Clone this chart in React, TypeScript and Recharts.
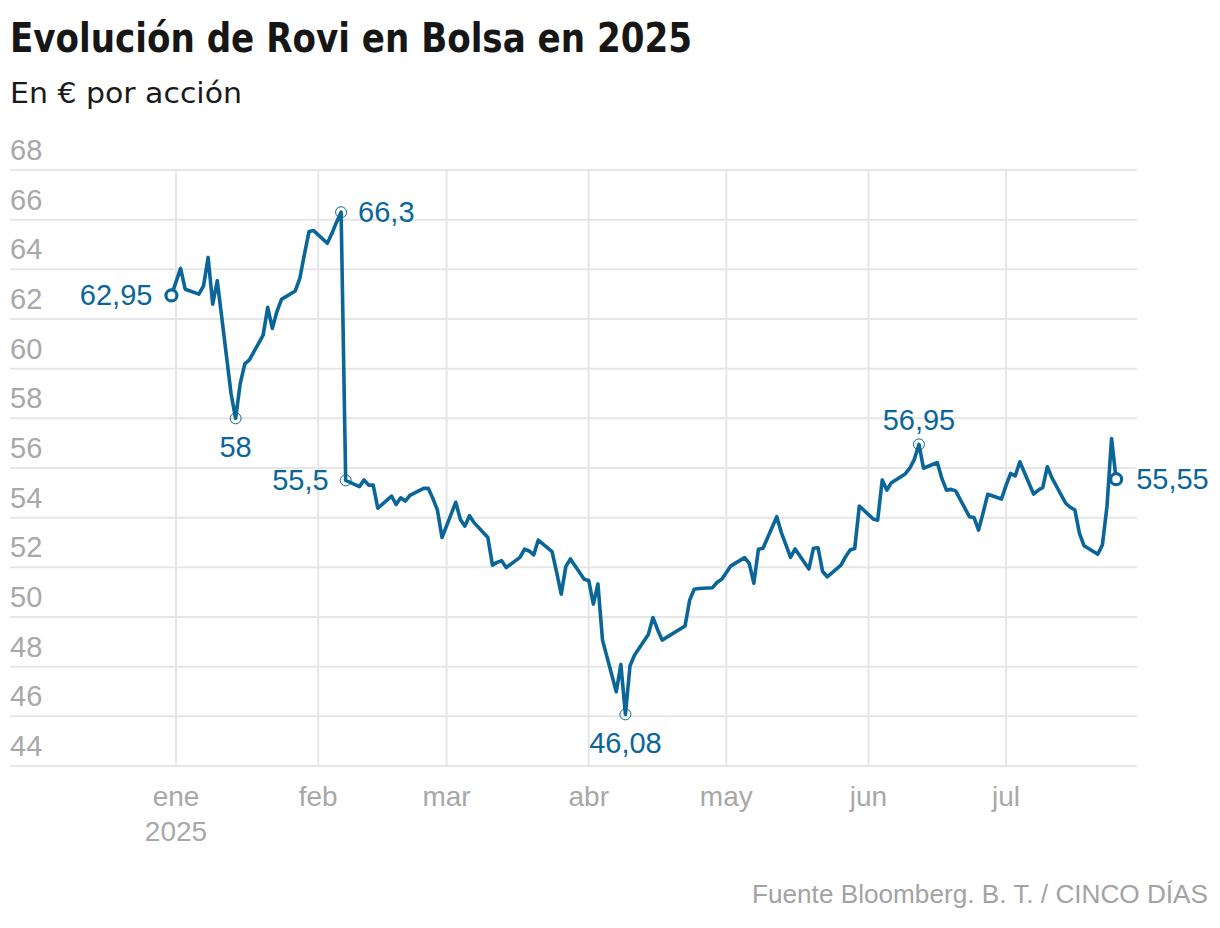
import React from 'react';
import { LineChart, Line, XAxis, YAxis, CartesianGrid, ReferenceLine } from 'recharts';

// Cotización de Rovi (cierre diario, € por acción)
const dates = [
  '2024-12-31', '2025-01-02', '2025-01-03', '2025-01-06', '2025-01-07', '2025-01-08', '2025-01-09', '2025-01-10',
  '2025-01-13', '2025-01-14', '2025-01-15', '2025-01-16', '2025-01-17', '2025-01-20', '2025-01-21', '2025-01-22',
  '2025-01-23', '2025-01-24', '2025-01-27', '2025-01-28', '2025-01-29', '2025-01-30', '2025-01-31',
  '2025-02-03', '2025-02-04', '2025-02-05', '2025-02-06', '2025-02-07', '2025-02-10', '2025-02-11', '2025-02-12',
  '2025-02-13', '2025-02-14', '2025-02-17', '2025-02-18', '2025-02-19', '2025-02-20', '2025-02-21', '2025-02-24',
  '2025-02-25', '2025-02-26', '2025-02-27', '2025-02-28',
  '2025-03-03', '2025-03-04', '2025-03-05', '2025-03-06', '2025-03-07', '2025-03-10', '2025-03-11', '2025-03-12',
  '2025-03-13', '2025-03-14', '2025-03-17', '2025-03-18', '2025-03-19', '2025-03-20', '2025-03-21', '2025-03-24',
  '2025-03-25', '2025-03-26', '2025-03-27', '2025-03-28', '2025-03-31',
  '2025-04-01', '2025-04-02', '2025-04-03', '2025-04-04', '2025-04-07', '2025-04-08', '2025-04-09', '2025-04-10',
  '2025-04-11', '2025-04-14', '2025-04-15', '2025-04-16', '2025-04-17', '2025-04-22', '2025-04-23', '2025-04-24',
  '2025-04-25', '2025-04-28', '2025-04-29', '2025-04-30',
  '2025-05-02', '2025-05-05', '2025-05-06', '2025-05-07', '2025-05-08', '2025-05-09', '2025-05-12', '2025-05-13',
  '2025-05-14', '2025-05-15', '2025-05-16', '2025-05-19', '2025-05-20', '2025-05-21', '2025-05-22', '2025-05-23',
  '2025-05-26', '2025-05-27', '2025-05-28', '2025-05-29', '2025-05-30',
  '2025-06-02', '2025-06-03', '2025-06-04', '2025-06-05', '2025-06-06', '2025-06-09', '2025-06-10', '2025-06-11',
  '2025-06-12', '2025-06-13', '2025-06-16', '2025-06-17', '2025-06-18', '2025-06-19', '2025-06-20', '2025-06-23',
  '2025-06-24', '2025-06-25', '2025-06-26', '2025-06-27', '2025-06-30',
  '2025-07-01', '2025-07-02', '2025-07-03', '2025-07-04', '2025-07-07', '2025-07-08', '2025-07-09', '2025-07-10',
  '2025-07-11', '2025-07-14', '2025-07-15', '2025-07-16', '2025-07-17', '2025-07-18', '2025-07-21', '2025-07-22',
  '2025-07-23', '2025-07-24', '2025-07-25',
];

const prices = [
  62.95, 64.04, 63.2, 63.0, 63.33, 64.48, 62.6, 63.54,
  59.0, 58.0, 59.4, 60.19, 60.35, 61.35, 62.47, 61.62,
  62.3, 62.79, 63.13, 63.64, 64.6, 65.52, 65.56,
  65.05, 65.45, 65.9, 66.3, 55.5, 55.25, 55.52, 55.31,
  55.31, 54.38, 54.87, 54.53, 54.8, 54.67, 54.9, 55.18,
  55.18, 54.78, 54.31, 53.2,
  54.62, 53.93, 53.66, 54.08, 53.8, 53.2, 52.09, 52.2,
  52.27, 51.99, 52.4, 52.73, 52.66, 52.5, 53.1, 52.63,
  51.8, 50.92, 52.03, 52.34, 51.52,
  51.47, 50.52, 51.33, 49.07, 46.99, 48.09, 46.08, 48.04,
  48.47, 49.3, 49.98, 49.5, 49.07, 49.64, 50.68, 51.12,
  51.15, 51.18, 51.4, 51.52,
  52.06, 52.39, 52.16, 51.36, 52.73, 52.77, 54.04, 53.4,
  52.9, 52.4, 52.74, 51.93, 52.77, 52.79, 51.83, 51.62,
  52.09, 52.43, 52.7, 52.76, 54.47,
  53.95, 53.9, 55.52, 55.11, 55.41, 55.76, 55.99, 56.35,
  56.95, 55.99, 56.22, 55.58, 55.11, 55.14, 55.08, 54.04,
  54.01, 53.5, 54.2, 54.94, 54.75,
  55.3, 55.78, 55.68, 56.25, 54.95, 55.1, 55.22, 56.05,
  55.6, 54.58, 54.42, 54.31, 53.37, 52.87, 52.53, 52.9,
  54.44, 57.19, 55.55,
];

const monthTicks = ['2025-01-01', '2025-02-01', '2025-03-01', '2025-04-01', '2025-05-01', '2025-06-01', '2025-07-01'];
const monthLabels = ['ene', 'feb', 'mar', 'abr', 'may', 'jun', 'jul'];
const yTicks = [44, 46, 48, 50, 52, 54, 56, 58, 60, 62, 64, 66, 68];

// Puntos destacados: fecha, texto y posición del rótulo
type Highlight = { date: string; label: string; pos: 'left' | 'right' | 'above' | 'below'; big?: boolean };
const highlights: Highlight[] = [
  { date: '2024-12-31', label: '62,95', pos: 'left', big: true },
  { date: '2025-01-14', label: '58', pos: 'below' },
  { date: '2025-02-06', label: '66,3', pos: 'right' },
  { date: '2025-02-07', label: '55,5', pos: 'left' },
  { date: '2025-04-09', label: '46,08', pos: 'below' },
  { date: '2025-06-12', label: '56,95', pos: 'above' },
  { date: '2025-07-25', label: '55,55', pos: 'right', big: true },
];

const BLUE = '#0a6699';
const GRAY = '#a8a8a8';
const GRID = '#e6e6e6';
const FONT = '"Liberation Sans", Arial, Helvetica, sans-serif';
const NARROW = '"Liberation Sans Narrow", "DejaVu Sans Condensed", "Arial Narrow", "Liberation Sans", sans-serif';

const dayOf = (iso: string): number => {
  const [y, m, d] = iso.split('-').map(Number);
  return (Date.UTC(y, m - 1, d) - Date.UTC(2025, 0, 1)) / 86400000;
};

const data = dates.map((d, i) => ({ day: dayOf(d), date: d, price: prices[i] }));
const tickDays = monthTicks.map(dayOf);

const renderXTick = (props: any) => {
  const { x, payload, index } = props;
  const idx = tickDays.indexOf(payload.value);
  return (
    <g key={`xt${index}`}>
      <text x={x} y={806} textAnchor="middle" fill={GRAY} fontSize={28} fontFamily={FONT}>
        {monthLabels[idx]}
      </text>
      {idx === 0 && (
        <text x={x} y={841} textAnchor="middle" fill={GRAY} fontSize={28} fontFamily={FONT}>
          2025
        </text>
      )}
    </g>
  );
};

const renderYTick = (props: any) => {
  const { y, payload, index } = props;
  return (
    <text key={`yt${index}`} x={10} y={y - 10} textAnchor="start" fill={GRAY} fontSize={29} fontFamily={FONT}>
      {payload.value}
    </text>
  );
};

const renderDot = (props: any) => {
  const { cx, cy, payload, index } = props;
  const h = highlights.find((x) => x.date === payload.date);
  if (!h) return <g key={`d${index}`} />;
  let tx = cx;
  let ty = cy + 10;
  let anchor: 'start' | 'middle' | 'end' = 'middle';
  if (h.pos === 'left') {
    tx = cx - (h.big ? 19 : 17);
    anchor = 'end';
  } else if (h.pos === 'right') {
    tx = cx + (h.big ? 20 : 17);
    anchor = 'start';
  } else if (h.pos === 'below') {
    ty = cy + 39;
  } else {
    ty = cy - 14;
  }
  return (
    <g key={`d${index}`}>
      {h.big ? (
        <circle cx={cx} cy={cy} r={5.5} fill="#fff" stroke={BLUE} strokeWidth={3.2} />
      ) : (
        <circle cx={cx} cy={cy} r={5.5} fill="none" stroke={BLUE} strokeWidth={1} />
      )}
      <text x={tx} y={ty} textAnchor={anchor} fill={BLUE} fontSize={29} fontFamily={FONT}>
        {h.label}
      </text>
    </g>
  );
};

export default function App() {
  return (
    <div style={{ position: 'relative', width: 1220, height: 928, background: '#fff' }}>
      <style>{`body{margin:0;}`}</style>
      <LineChart
        width={1220}
        height={928}
        data={data}
        margin={{ top: 170, right: 83, bottom: 161, left: 9 }}
      >
        <CartesianGrid stroke={GRID} strokeWidth={2} vertical={false} />
        {tickDays.map((d) => (
          <ReferenceLine key={`v${d}`} x={d} stroke={GRID} strokeWidth={2} />
        ))}
        <XAxis
          dataKey="day"
          type="number"
          domain={[-36.2, 209.55]}
          ticks={tickDays}
          interval={0}
          tick={renderXTick}
          tickLine={false}
          axisLine={false}
          height={1}
        />
        <YAxis
          type="number"
          domain={[44, 68]}
          ticks={yTicks}
          interval={0}
          tick={renderYTick}
          tickLine={false}
          axisLine={false}
          width={1}
        />
        <Line
          type="linear"
          dataKey="price"
          stroke={BLUE}
          strokeWidth={3.6}
          strokeLinejoin="round"
          dot={renderDot}
          activeDot={false}
          isAnimationActive={false}
        />
      </LineChart>
      <svg
        width={1220}
        height={928}
        style={{ position: 'absolute', left: 0, top: 0, pointerEvents: 'none' }}
      >
        <text
          x={10}
          y={52}
          fontSize={40}
          fontWeight={700}
          fontFamily={NARROW}
          fill="#161616"
          textLength={682}
          lengthAdjust="spacingAndGlyphs"
        >
          Evolución de Rovi en Bolsa en 2025
        </text>
        <text
          x={10}
          y={103}
          fontSize={28}
          fontFamily={NARROW}
          fill="#1a1a1a"
          textLength={232}
          lengthAdjust="spacingAndGlyphs"
        >
          En € por acción
        </text>
        <text
          x={752}
          y={903}
          fontSize={25}
          fontFamily={FONT}
          fill="#a3a3a3"
          textLength={456}
          lengthAdjust="spacingAndGlyphs"
        >
          Fuente Bloomberg. B. T. / CINCO DÍAS
        </text>
      </svg>
    </div>
  );
}
